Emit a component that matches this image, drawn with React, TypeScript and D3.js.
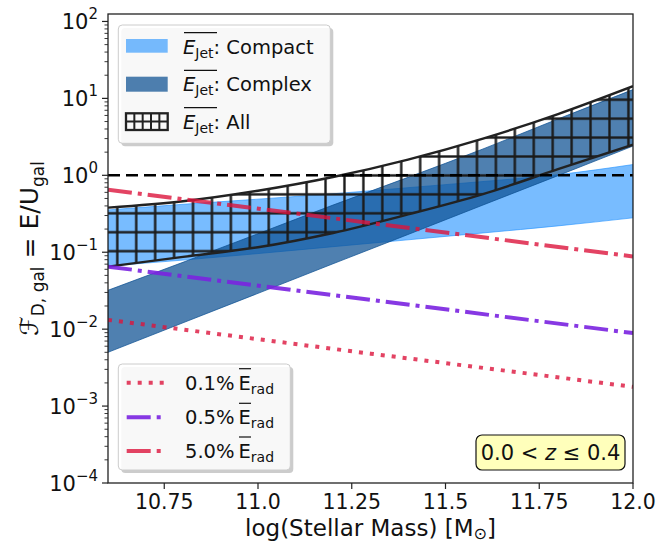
import React from "react";
import * as d3 from "d3";

// ---- data ----
const massGrid = [10.6, 10.8, 11.0, 11.2, 11.4, 11.6, 11.8, 12.0];
const compactUpper = [0.355, 0.42, 0.49, 0.575, 0.69, 0.83, 1.02, 1.38];
const compactLower = [0.066, 0.079, 0.096, 0.118, 0.145, 0.178, 0.22, 0.28];
const complexUpper = [0.032, 0.074, 0.174, 0.41, 0.94, 2.2, 5.4, 13.0];
const complexLower = [0.005, 0.0121, 0.0292, 0.0708, 0.17, 0.411, 0.99, 2.4];
const allUpper = [0.38, 0.46, 0.63, 0.95, 1.6, 3.0, 6.25, 14.4];
const allLower = [0.065, 0.087, 0.116, 0.178, 0.31, 0.57, 1.2, 2.5];

const lineMass = [10.6, 11.3, 12.0];
const rad01 = [0.0132, 0.0048, 0.00178];
const rad05 = [0.065, 0.024, 0.0089];
const rad50 = [0.65, 0.24, 0.088];

const xTicks = [10.75, 11.0, 11.25, 11.5, 11.75, 12.0];
const xTickLabels = ["10.75", "11.0", "11.25", "11.5", "11.75", "12.0"];
const yExps = [-4, -3, -2, -1, 0, 1, 2];

const W = 671, H = 544;
const L = 108, R = 633, T = 14, B = 483;

const x = d3.scaleLinear().domain([10.6, 12.0]).range([L, R]);
const y = d3.scaleLog().domain([1e-4, 125]).range([B, T]);

const bandPath = (xs: number[], lo: number[], hi: number[], curve: any) =>
  d3
    .area<number>()
    .x((_, i) => x(xs[i]))
    .y0((_, i) => y(lo[i]))
    .y1((_, i) => y(hi[i]))
    .curve(curve)(xs) || "";

const edgePath = (xs: number[], v: number[], curve: any) =>
  d3
    .line<number>()
    .x((_, i) => x(xs[i]))
    .y((_, i) => y(v[i]))
    .curve(curve)(xs) || "";

const FONT = "DejaVu Sans, sans-serif";
const CRIMSON = "#dc143c";
const VIOLET = "#7a22e0";

export default function App() {
  const minor: number[] = [];
  for (let e = -4; e < 2; e++) for (let k = 2; k <= 9; k++) minor.push(k * Math.pow(10, e));
  const hs = 18.93;

  const legendRows1 = [
    { label: "Compact", y: 46.7 },
    { label: "Complex", y: 84.3 },
    { label: "All", y: 121.7 },
  ];
  const legendRows2 = [
    { pct: "0.1%", y: 382.7, color: CRIMSON, dash: "4,7", op: 0.8 },
    { pct: "0.5%", y: 417.3, color: VIOLET, dash: "24,6,4,6", op: 0.9 },
    { pct: "5.0%", y: 451, color: CRIMSON, dash: "24,6,4,6", op: 0.8 },
  ];

  return (
    <svg
      width={W}
      height={H}
      style={{ position: "absolute", left: 0, top: 0, background: "#fff" }}
      fontFamily={FONT}
    >
      <defs>
        <clipPath id="plotclip">
          <rect x={L} y={T} width={R - L} height={B - T} />
        </clipPath>
        <pattern id="grid" patternUnits="userSpaceOnUse" width={hs} height={hs} x={117.3 - hs / 2} y={213.3 - hs / 2}>
          <line x1={hs / 2} y1={0} x2={hs / 2} y2={hs} stroke="#1a1a1a" strokeWidth={2.4} />
          <line x1={0} y1={hs / 2} x2={hs} y2={hs / 2} stroke="#1a1a1a" strokeWidth={2.4} />
        </pattern>
      </defs>

      <g clipPath="url(#plotclip)">
        <path d={bandPath(massGrid, compactLower, compactUpper, d3.curveMonotoneX)} fill="#1e90ff" fillOpacity={0.6} stroke="#1e90ff" strokeOpacity={0.6} strokeWidth={1} />
        <path d={bandPath(massGrid, complexLower, complexUpper, d3.curveMonotoneX)} fill="#0b4f91" fillOpacity={0.72} stroke="#0b4f91" strokeOpacity={0.72} strokeWidth={1} />
        <path d={bandPath(massGrid, allLower, allUpper, d3.curveMonotoneX)} fill="url(#grid)" stroke="none" />
        <path d={edgePath(massGrid, allUpper, d3.curveMonotoneX)} fill="none" stroke="#222" strokeWidth={2.4} />
        <path d={edgePath(massGrid, allLower, d3.curveMonotoneX)} fill="none" stroke="#222" strokeWidth={2.4} />

        <path d={edgePath(lineMass, rad01, d3.curveLinear)} fill="none" stroke={CRIMSON} strokeOpacity={0.8} strokeWidth={4} strokeDasharray="4,7" />
        <path d={edgePath(lineMass, rad05, d3.curveLinear)} fill="none" stroke={VIOLET} strokeOpacity={0.9} strokeWidth={4} strokeDasharray="24,6,4,6" />
        <path d={edgePath(lineMass, rad50, d3.curveLinear)} fill="none" stroke={CRIMSON} strokeOpacity={0.8} strokeWidth={4} strokeDasharray="24,6,4,6" />

        <line x1={L} x2={R} y1={y(1)} y2={y(1)} stroke="#000" strokeWidth={2.5} strokeDasharray="12,6" />
      </g>

      <rect x={L} y={T} width={R - L} height={B - T} fill="none" stroke="#222" strokeWidth={1.3} />

      {yExps.map((e) => (
        <g key={e}>
          <line x1={L - 6} x2={L} y1={y(Math.pow(10, e))} y2={y(Math.pow(10, e))} stroke="#222" strokeWidth={1.2} />
          <text x={L - 10} y={y(Math.pow(10, e)) + 8} textAnchor="end" fontSize={21} fill="#111">
            <tspan>10</tspan>
            <tspan dy={-10} fontSize={15}>{e < 0 ? "\u2212" + Math.abs(e) : String(e)}</tspan>
          </text>
        </g>
      ))}
      {minor.filter((v) => v > 1e-4 && v < 125).map((v, i) => (
        <line key={i} x1={L - 3.5} x2={L} y1={y(v)} y2={y(v)} stroke="#222" strokeWidth={0.9} />
      ))}

      {xTicks.map((t, i) => (
        <g key={t}>
          <line x1={x(t)} x2={x(t)} y1={B} y2={B + 6} stroke="#222" strokeWidth={1.2} />
          <text x={x(t)} y={B + 26} textAnchor="middle" fontSize={20.5} fill="#111">
            {xTickLabels[i]}
          </text>
        </g>
      ))}

      <text x={(L + R) / 2} y={536} textAnchor="middle" fontSize={23} fill="#111">
        log(Stellar Mass) [M<tspan dy={3} fontSize={16}>⊙</tspan><tspan dy={-3}>]</tspan>
      </text>
      <text transform={`translate(38, ${(T + B) / 2}) rotate(-90)`} textAnchor="middle" fontSize={25} fill="#111">
        <tspan fontStyle="italic">ℱ</tspan>
        <tspan dy={6} fontSize={17}>D, gal</tspan>
        <tspan dy={-6}> = E/U</tspan>
        <tspan dy={6} fontSize={17}>gal</tspan>
      </text>

      {/* legend 1 */}
      <rect x={121.3} y={28} width={212} height={118.3} rx={4} fill="#999" opacity={0.5} />
      <rect x={118.3} y={25} width={212} height={118.3} rx={4} fill="#fff" fillOpacity={0.85} stroke="#ccc" strokeWidth={1} />
      <rect x={126} y={39} width={41.7} height={13.7} fill="#1e90ff" fillOpacity={0.6} />
      <rect x={126} y={76.7} width={41.7} height={15} fill="#0b4f91" fillOpacity={0.72} />
      <g>
        <rect x={126} y={113.3} width={41.7} height={16.7} fill="none" stroke="#222" strokeWidth={2.3} />
        {[0, 1, 2, 3].map((k) => (
          <line key={k} x1={126 + 8.34 * (k + 1)} x2={126 + 8.34 * (k + 1)} y1={113.3} y2={130} stroke="#222" strokeWidth={2} />
        ))}
        <line x1={126} x2={167.7} y1={121.6} y2={121.6} stroke="#222" strokeWidth={2} />
      </g>
      {legendRows1.map((r) => (
        <g key={r.label}>
          <line x1={184} x2={217} y1={r.y - 14} y2={r.y - 14} stroke="#111" strokeWidth={1.2} />
          <text x={183} y={r.y + 7} fontSize={19.5} fill="#111">
            <tspan fontStyle="italic">E</tspan>
            <tspan dy={4} fontSize={14}>Jet</tspan>
            <tspan dy={-4}>: {r.label}</tspan>
          </text>
        </g>
      ))}

      {/* legend 2 */}
      <rect x={121.3} y={367} width={172} height={106} rx={4} fill="#999" opacity={0.5} />
      <rect x={118.3} y={364} width={172} height={106} rx={4} fill="#fff" fillOpacity={0.85} stroke="#ccc" strokeWidth={1} />
      {legendRows2.map((r) => (
        <g key={r.pct}>
          <line x1={126.7} x2={166.7} y1={r.y} y2={r.y} stroke={r.color} strokeOpacity={r.op} strokeWidth={4} strokeDasharray={r.dash} />
          <text x={185} y={r.y + 7} fontSize={19.5} fill="#111">
            {r.pct}
          </text>
          <line x1={239} x2={251} y1={r.y - 14} y2={r.y - 14} stroke="#111" strokeWidth={1.2} />
          <text x={238.5} y={r.y + 7} fontSize={19.5} fill="#111">
            E<tspan dy={4} fontSize={14}>rad</tspan>
          </text>
        </g>
      ))}

      {/* redshift box */}
      <rect x={476} y={435} width={149} height={35} rx={6} fill="#ffffbb" stroke="#111" strokeWidth={1.2} />
      <text x={550.5} y={460} textAnchor="middle" fontSize={21} fill="#111">
        0.0 &lt; <tspan fontStyle="italic">z</tspan> ≤ 0.4
      </text>
    </svg>
  );
}
